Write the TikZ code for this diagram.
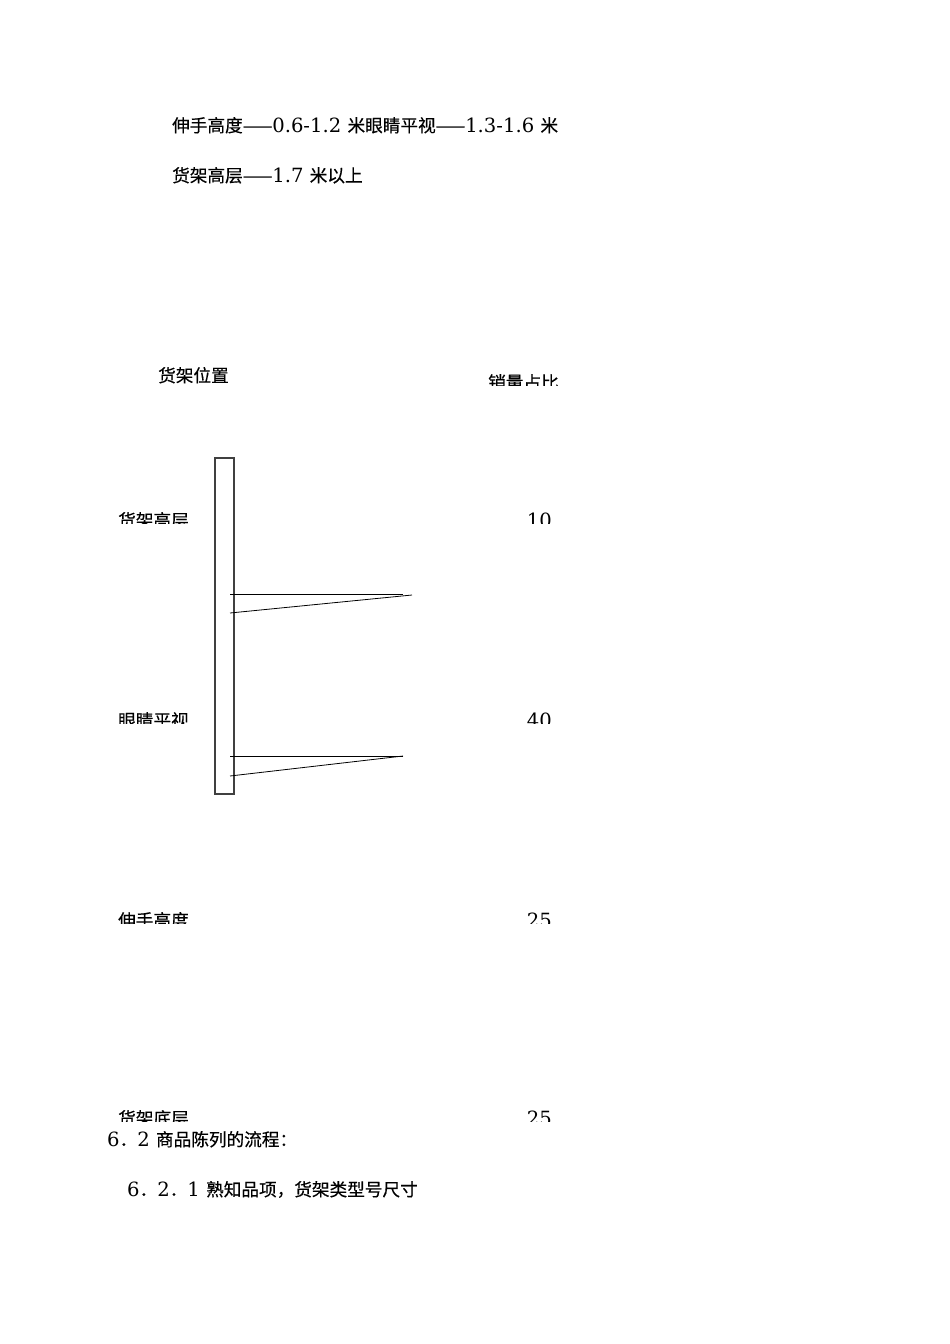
\documentclass[tikz,border=0pt]{standalone}
\usepackage{fontspec}
\usepackage{tikz}
\setmainfont{DejaVu Serif}
\newfontfamily\cjk[Scale=0.9,FakeBold=0.4]{Noto Sans CJK SC}

\begin{document}
\begin{tikzpicture}[x=1pt,y=-1pt,
    txt/.style={anchor=base west,inner sep=0pt,font=\fontsize{19.6}{23}\selectfont},
    num/.style={anchor=base east,inner sep=0pt,font=\fontsize{19.6}{23}\selectfont}]
    \useasboundingbox[fill=white] (0,0) rectangle (950,1344);
    % heights of the shelf levels
    \node[txt] (reachline) at (172,132) {{\cjk 伸手高度——}0.6-1.2 {\cjk 米眼睛平视——}1.3-1.6 {\cjk 米}};
    \node[txt] (highline) at (172,182) {{\cjk 货架高层——}1.7 {\cjk 米以上}};
    % table head
    \node[txt] (poshead) at (158,382) {\cjk 货架位置};
    \begin{scope}
        \clip (0,371) rectangle (950,385);
        \node[txt] (sharehead) at (488,389) {\cjk 销量占比};
    \end{scope}
    % shelf post
    \node[draw=black!75,line width=1.1pt,minimum width=19,minimum height=336,inner sep=0pt] (post) at (224.5,626) {};
    \coordinate (A) at (230,594);
    \coordinate (B) at (403,594);
    \coordinate (C) at (230,613);
    \coordinate (D) at (412,595);
    \draw[line width=0.8pt] (A) -- (B);
    \draw[line width=0.8pt] (C) -- (D);
    \coordinate (E) at (230,756);
    \coordinate (F) at (403,756);
    \coordinate (G) at (230,776);
    \draw[line width=0.8pt] (E) -- (F);
    \draw[line width=0.8pt] (G) -- (F);
    % rows, cut off at the bottom
    \foreach \name/\label/\share/\cut in {high/货架高层/10/523, eye/眼睛平视/40/723, reach/伸手高度/25/923, low/货架底层/25/1121}{
        \begin{scope}
            \clip (0,\cut-16) rectangle (950,\cut);
            \node[txt] (\name) at (118,\cut+4) {\cjk \label};
            \node[num] (\name-share) at (552,\cut+4) {\share};
        \end{scope}
    }
    % following text
    \node[txt] (sec) at (107,1146) {6{\cjk ．}2 {\cjk 商品陈列的流程：}};
    \node[txt] (subsec) at (127,1196) {6{\cjk ．}2{\cjk ．}1 {\cjk 熟知品项，货架类型号尺寸}};
\end{tikzpicture}
\end{document}
